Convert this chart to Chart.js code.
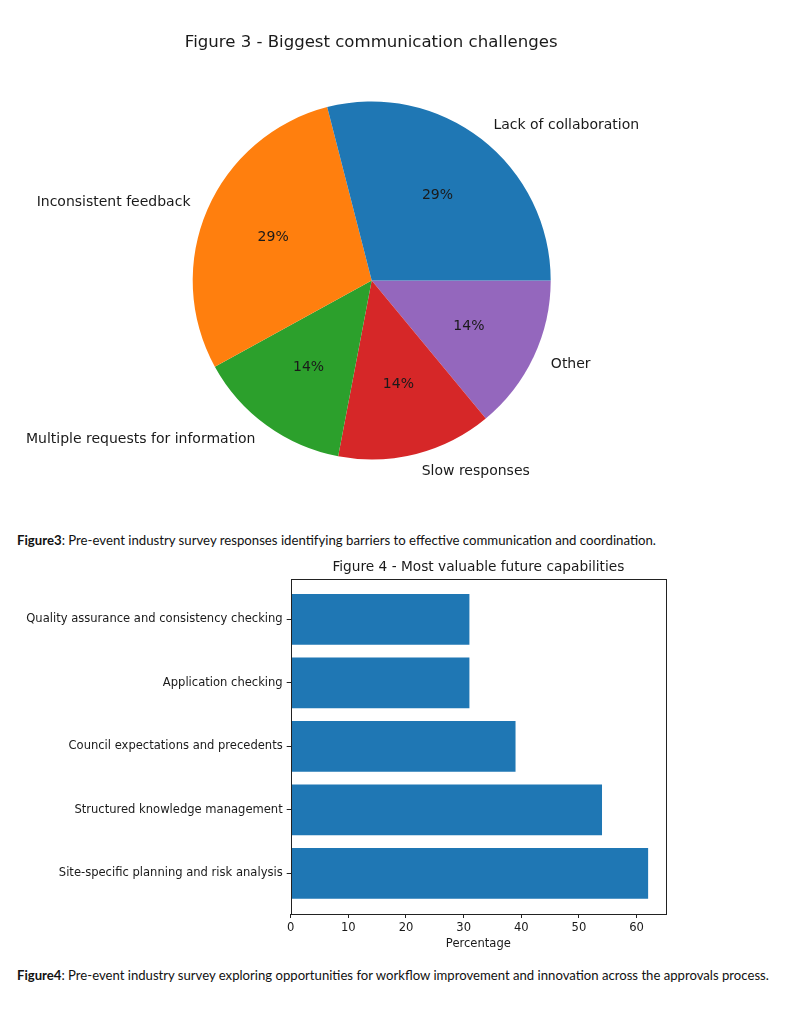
<!DOCTYPE html>
<html>
<head>
<meta charset="utf-8">
<script src="https://cdn.jsdelivr.net/npm/chart.js@4"></script>
<style>
  html, body { margin:0; padding:0; background:#fff; }
  #page { position:relative; width:798px; height:1024px; overflow:hidden; background:#fff; }
  .box { position:absolute; left:0; width:798px; }
  .cap { position:absolute; left:17px; white-space:nowrap; font-family:"Lato","Open Sans",sans-serif; font-size:12px; color:#111; line-height:1; }
  .cap b { font-weight:bold; }
</style>
</head>
<body>
<div id="page">
  <div class="box" style="top:0;height:520px;"><canvas id="pie"></canvas></div>
  <div class="cap" id="cap1" style="top:534px;"><b>Figure3</b>: Pre-event industry survey responses identifying barriers to effective communication and coordination.</div>
  <div class="box" style="top:550px;height:410px;"><canvas id="bar"></canvas></div>
  <div class="cap" id="cap2" style="top:969px;"><b>Figure4</b>: Pre-event industry survey exploring opportunities for workflow improvement and innovation across the approvals process.</div>
</div>
<script>
// ---- Figure 3 data ----
const challengeLabels = ['Lack of collaboration', 'Inconsistent feedback', 'Multiple requests for information', 'Slow responses', 'Other'];
const challengeValues = [29, 29, 14, 14, 14];
const challengeColors = ['#1f77b4', '#ff7f0e', '#2ca02c', '#d62728', '#9467bd'];

// ---- Figure 4 data ----
const capabilityLabels = ['Site-specific planning and risk analysis', 'Structured knowledge management', 'Council expectations and precedents', 'Application checking', 'Quality assurance and consistency checking'];
const capabilityValues = [62, 54, 39, 31, 31];
const xTickStep = 10;

const PIE_TITLE = 'Figure 3 - Biggest communication challenges';
const BAR_TITLE = 'Figure 4 - Most valuable future capabilities';

const TXT = '#1a1a1a';
const FAM = '"DejaVu Sans"';

// draw a title centred at (cx, cy), sized so that its width matches the reference
function drawFittedTitle(ctx, text, cx, cy, targetWidth) {
  ctx.save();
  ctx.font = '20px ' + FAM;
  const w = ctx.measureText(text).width;
  const size = 20 * targetWidth / w;
  ctx.font = size.toFixed(2) + 'px ' + FAM;
  ctx.fillStyle = TXT;
  ctx.textAlign = 'center';
  ctx.textBaseline = 'middle';
  ctx.fillText(text, cx, cy);
  ctx.restore();
}

// matplotlib draws counter-clockwise from 3 o'clock; Chart.js draws clockwise, so reverse order
const pieLabels = challengeLabels.slice().reverse();
const pieValues = challengeValues.slice().reverse();
const pieColors = challengeColors.slice().reverse();
const pieTotal = challengeValues.reduce((a, b) => a + b, 0);

const pieLabelPlugin = {
  id: 'pieLabels',
  afterDatasetsDraw(chart) {
    const ctx = chart.ctx;
    const meta = chart.getDatasetMeta(0);
    ctx.save();
    ctx.font = '14px ' + FAM;
    ctx.fillStyle = TXT;
    ctx.textBaseline = 'middle';
    meta.data.forEach((arc, i) => {
      const p = arc.getProps(['x', 'y', 'startAngle', 'endAngle', 'outerRadius'], true);
      const mid = (p.startAngle + p.endAngle) / 2;
      const c = Math.cos(mid), s = Math.sin(mid);
      const lx = p.x + 1.1 * p.outerRadius * c;
      const ly = p.y + 1.1 * p.outerRadius * s;
      ctx.textAlign = c > 0 ? 'left' : 'right';
      ctx.fillText(pieLabels[i], lx + (c > 0 ? 1 : -0.5), ly);
      const px = p.x + 0.6 * p.outerRadius * c;
      const py = p.y + 0.6 * p.outerRadius * s;
      ctx.textAlign = 'center';
      ctx.fillText(Math.round(pieValues[i] / pieTotal * 100) + '%', px, py);
    });
    ctx.restore();
    const a = chart.chartArea;
    drawFittedTitle(ctx, PIE_TITLE, (a.left + a.right) / 2 - 0.5, 43, 373);
  }
};

new Chart(document.getElementById('pie'), {
  type: 'pie',
  data: {
    labels: pieLabels,
    datasets: [{ data: pieValues, backgroundColor: pieColors, borderWidth: 0, hoverOffset: 0, offset: 0 }]
  },
  options: {
    responsive: true,
    maintainAspectRatio: false,
    animation: false,
    rotation: 90,
    layout: { padding: { left: 192.7, right: 247.3, top: 101.5, bottom: 60.5 } },
    plugins: {
      legend: { display: false },
      tooltip: { enabled: false },
      title: { display: false }
    }
  },
  plugins: [pieLabelPlugin]
});

const frameBox = {
  id: 'frameBox',
  afterDraw(chart) {
    const { ctx, chartArea: a } = chart;
    ctx.save();
    ctx.strokeStyle = '#222';
    ctx.lineWidth = 1;
    ctx.strokeRect(Math.round(a.left) + 0.5, Math.round(a.top) + 0.5, Math.round(a.right - a.left), Math.round(a.bottom - a.top));
    ctx.restore();
    // axes title centred over the plot area (matplotlib style)
    drawFittedTitle(ctx, BAR_TITLE, (a.left + a.right) / 2, a.top - 11, 292);
  }
};

const barFont = { family: FAM, size: 11.55, weight: 'normal' };
const barData = capabilityValues.map((v, i) => ({ x: v, y: i }));

new Chart(document.getElementById('bar'), {
  type: 'bar',
  data: {
    datasets: [{ data: barData, backgroundColor: '#1f77b4', borderWidth: 0, barPercentage: 0.8, categoryPercentage: 1 }]
  },
  options: {
    indexAxis: 'y',
    responsive: true,
    maintainAspectRatio: false,
    animation: false,
    layout: { padding: { left: 0, right: 132, top: 28.7, bottom: 9 } },
    plugins: {
      legend: { display: false },
      tooltip: { enabled: false },
      title: { display: false }
    },
    scales: {
      x: {
        type: 'linear',
        min: 0,
        max: Math.max(...capabilityValues) * 1.05,
        border: { display: false },
        grid: { drawOnChartArea: false, tickLength: 4, color: '#222' },
        ticks: { stepSize: xTickStep, includeBounds: false, padding: 3, color: TXT, font: barFont, maxRotation: 0 },
        title: { display: true, text: 'Percentage', color: TXT, font: barFont, padding: { top: 2, bottom: 0 } },
        afterFit(s) { s.height = 37; }
      },
      y: {
        type: 'linear',
        min: -0.64,
        max: capabilityLabels.length - 1 + 0.64,
        offset: false,
        border: { display: false },
        grid: { drawOnChartArea: false, tickLength: 4, color: '#222', offset: false },
        ticks: {
          stepSize: 1, includeBounds: false, padding: 4, color: TXT, font: barFont,
          callback: v => (Number.isInteger(v) && capabilityLabels[v] !== undefined) ? capabilityLabels[v] : ''
        },
        afterFit(s) { s.width = 290.7; }
      }
    }
  },
  plugins: [frameBox]
});

// fit caption widths to the reference
function fitCap(id, target) {
  const el = document.getElementById(id);
  const w = el.getBoundingClientRect().width;
  el.style.fontSize = (12 * target / w).toFixed(2) + 'px';
}
fitCap('cap1', 639);
fitCap('cap2', 753);
</script>
</body>
</html>
